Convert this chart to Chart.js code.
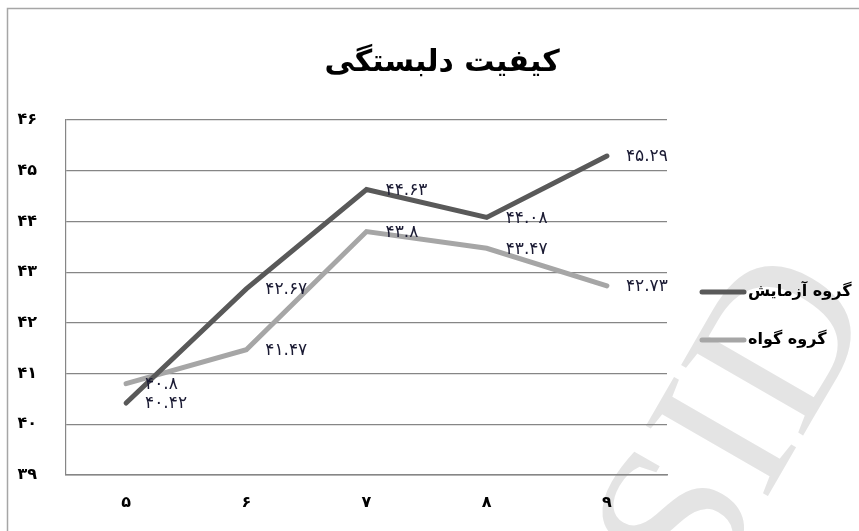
<!DOCTYPE html>
<html>
<head>
<meta charset="utf-8">
<script src="https://cdn.jsdelivr.net/npm/chart.js@4/dist/chart.umd.min.js"></script>
<style>
html,body{margin:0;padding:0;background:#fff;}
#wrap{position:relative;width:859px;height:531px;}
canvas{display:block;}
</style>
</head>
<body>
<div id="wrap"><canvas id="c" width="859" height="531"></canvas></div>
<script>
const chartTitle = "کیفیت دلبستگی";
const categories = [5, 6, 7, 8, 9];
const seriesNames = ["گروه آزمایش", "گروه گواه"];
const experimentValues = [40.42, 42.67, 44.63, 44.08, 45.29];
const controlValues = [40.8, 41.47, 43.8, 43.47, 42.73];
const yMin = 39, yMax = 46, yStep = 1;
const watermark = "SID";

function fa(v) {
  return String(v).replace(/[0-9]/g, d => "۰۱۲۳۴۵۶۷۸۹"[+d]);
}

const frameAndExtras = {
  id: 'frameAndExtras',
  beforeDraw(chart) {
    const ctx = chart.ctx;
    ctx.save();
    ctx.fillStyle = '#fff';
    ctx.fillRect(0, 0, chart.width, chart.height);
    // watermark
    ctx.save();
    ctx.translate(742, 428);
    ctx.rotate(-60 * Math.PI / 180);
    ctx.fillStyle = '#e4e4e4';
    ctx.font = '215px "Liberation Serif", serif';
    ctx.textAlign = 'center';
    ctx.textBaseline = 'middle';
    ctx.fillText(watermark, 0, 0);
    ctx.restore();
    // frame
    ctx.strokeStyle = '#a6a6a6';
    ctx.lineWidth = 1.5;
    ctx.beginPath();
    ctx.moveTo(7.5, chart.height);
    ctx.lineTo(7.5, 8.5);
    ctx.lineTo(chart.width, 8.5);
    ctx.stroke();
    // title
    ctx.fillStyle = '#000';
    ctx.font = 'bold 30px "DejaVu Sans", sans-serif';
    ctx.textAlign = 'center';
    ctx.textBaseline = 'middle';
    ctx.direction = 'rtl';
    ctx.fillText(chartTitle, 442, 63);
    ctx.restore();
  },
  afterDatasetsDraw(chart) {
    const ctx = chart.ctx;
    ctx.save();
    // data labels
    ctx.font = '17px "DejaVu Sans", sans-serif';
    ctx.fillStyle = '#1a1a33';
    ctx.textAlign = 'left';
    ctx.textBaseline = 'middle';
    chart.data.datasets.forEach((ds, i) => {
      const meta = chart.getDatasetMeta(i);
      meta.data.forEach((pt, j) => {
        ctx.fillText(fa(ds.data[j]), pt.x + 19, pt.y + 1);
      });
    });
    // legend
    const ys = [292, 340];
    chart.data.datasets.forEach((ds, i) => {
      ctx.strokeStyle = ds.borderColor;
      ctx.lineWidth = 5;
      ctx.lineCap = 'round';
      ctx.beginPath();
      ctx.moveTo(702, ys[i]);
      ctx.lineTo(744, ys[i]);
      ctx.stroke();
      ctx.fillStyle = '#000';
      ctx.font = 'bold 16px "DejaVu Sans", sans-serif';
      ctx.direction = 'rtl';
      ctx.textAlign = 'left';
      ctx.fillText(ds.label, 748, ys[i]);
    });
    ctx.restore();
  }
};

new Chart(document.getElementById('c'), {
  type: 'line',
  data: {
    labels: categories,
    datasets: [
      { label: seriesNames[0], data: experimentValues, borderColor: '#595959', backgroundColor: '#595959',
        borderWidth: 5, pointRadius: 0, tension: 0, borderCapStyle: 'round', borderJoinStyle: 'miter' },
      { label: seriesNames[1], data: controlValues, borderColor: '#a6a6a6', backgroundColor: '#a6a6a6',
        borderWidth: 5, pointRadius: 0, tension: 0, borderCapStyle: 'round', borderJoinStyle: 'miter' }
    ]
  },
  options: {
    responsive: false,
    animation: false,
    layout: { padding: { top: 120, right: 192, left: 0, bottom: 0 } },
    plugins: { legend: { display: false }, title: { display: false }, tooltip: { enabled: false } },
    scales: {
      x: {
        offset: true,
        grid: { display: false, drawTicks: false },
        border: { display: true, color: '#868686', width: 1.5 },
        ticks: { color: '#000', padding: 18, font: { family: '"DejaVu Sans", sans-serif', size: 16, weight: 'bold' },
          callback: function(v) { return fa(this.getLabelForValue(v)); } },
        afterFit(s) { s.height = 56; }
      },
      y: {
        min: yMin, max: yMax,
        grid: { color: '#868686', lineWidth: 1.2, drawTicks: false },
        border: { display: true, color: '#868686', width: 1.2 },
        ticks: { stepSize: yStep, color: '#000', padding: 29, font: { family: '"DejaVu Sans", sans-serif', size: 16, weight: 'bold' },
          callback: v => fa(v) },
        afterFit(s) { s.width = 66; }
      }
    }
  },
  plugins: [frameAndExtras]
});
</script>
</body>
</html>
